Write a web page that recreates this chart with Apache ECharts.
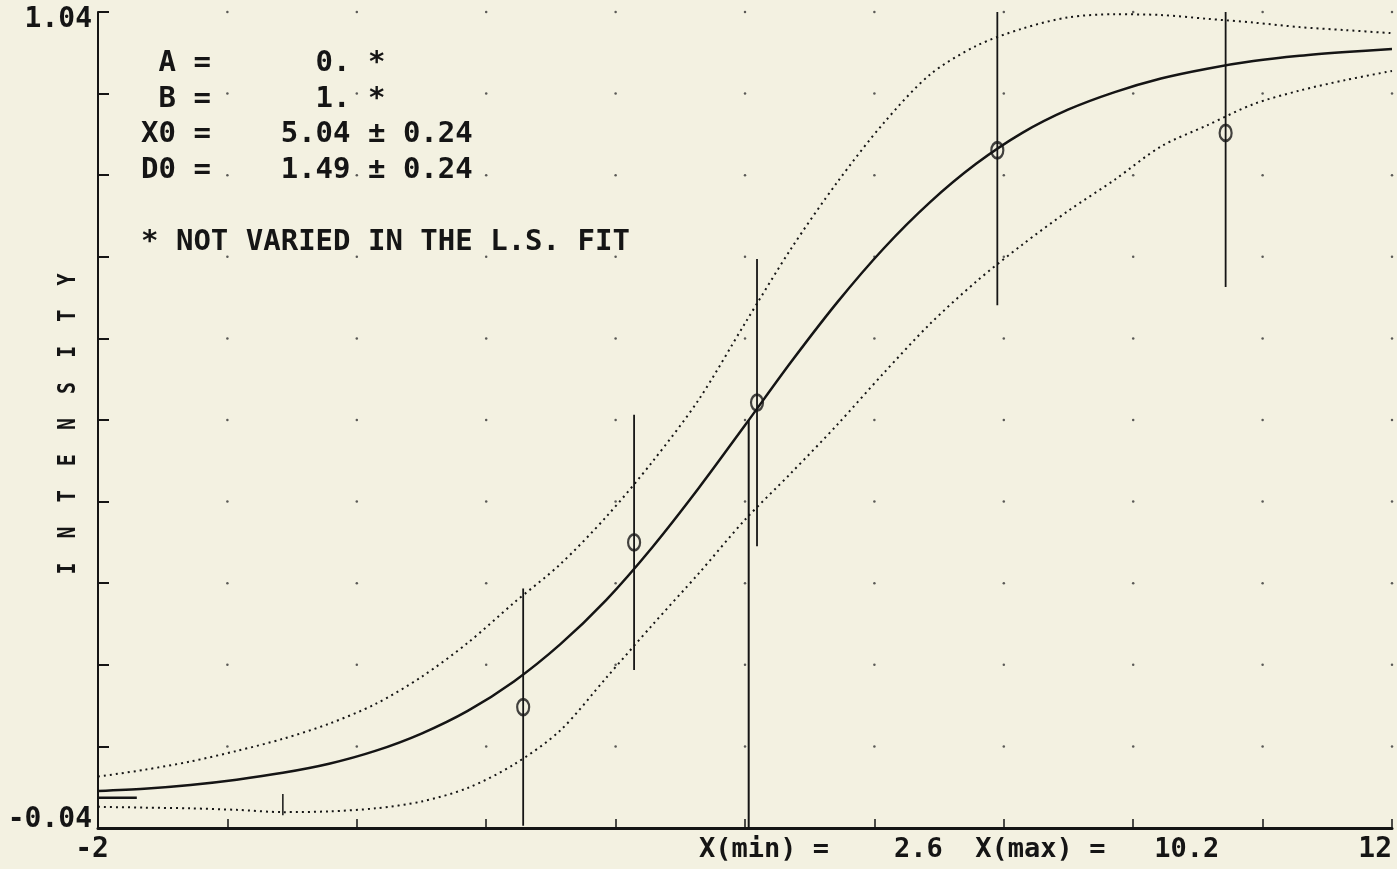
<!DOCTYPE html>
<html>
<head>
<meta charset="utf-8">
<script src="https://cdn.jsdelivr.net/npm/echarts@6/dist/echarts.min.js"></script>
<style>
html, body { margin: 0; padding: 0; background: #f3f1e1; }
#main { width: 1397px; height: 869px; }
</style>
</head>
<body>
<div id="main"></div>
<script>
// axis ticks (every 1.4 on x, every 0.108 on y)
var xTicks = [-2, -0.6, 0.8, 2.2, 3.6, 5, 6.4, 7.8, 9.2, 10.6, 12];
var yTicks = [-0.04, 0.068, 0.176, 0.284, 0.392, 0.5, 0.608, 0.716, 0.824, 0.932, 1.04];

// measured points with error bars
var pointX = [2.6, 3.8, 5.13, 7.73, 10.2];
var pointY = [0.120, 0.338, 0.523, 0.857, 0.880];
var pointErr = [0.157, 0.169, 0.190, 0.205, 0.204];

// fitted curve and the dotted band
var curveX = [-2, -1.5, -1, -0.5, 0, 0.5, 1, 1.5, 2, 2.5, 3, 3.5, 4, 4.5, 5, 5.5, 6, 6.5, 7, 7.5, 8, 8.5, 9, 9.5, 10, 10.5, 11, 11.5, 12];
var fitY = [0.009, 0.012, 0.017, 0.024, 0.033, 0.045, 0.062, 0.085, 0.115, 0.154, 0.203, 0.262, 0.332, 0.410, 0.493, 0.577, 0.656, 0.727, 0.788, 0.839, 0.880, 0.911, 0.934, 0.952, 0.965, 0.975, 0.982, 0.987, 0.991];
var upperY = [0.028, 0.037, 0.048, 0.062, 0.078, 0.098, 0.124, 0.160, 0.205, 0.258, 0.309, 0.372, 0.445, 0.527, 0.628, 0.727, 0.815, 0.893, 0.957, 0.995, 1.018, 1.033, 1.037, 1.036, 1.031, 1.026, 1.020, 1.016, 1.012];
var lowerY = [-0.012, -0.013, -0.014, -0.016, -0.019, -0.018, -0.014, -0.005, 0.013, 0.044, 0.089, 0.159, 0.229, 0.297, 0.368, 0.430, 0.494, 0.562, 0.627, 0.683, 0.732, 0.777, 0.818, 0.862, 0.890, 0.918, 0.936, 0.950, 0.962];

// markers: X0 drop line, A level stub, small tick at x = 0
var x0Line = [[5.04, -0.04], [5.04, 0.5]];
var aStub = [[-2, 0], [-1.58, 0]];
var zeroTick = [[0, -0.023], [0, 0.005]];

var paramLines = [' A =      0. *', ' B =      1. *', 'X0 =    5.04 ± 0.24', 'D0 =    1.49 ± 0.24'];
var noteText = '* NOT VARIED IN THE L.S. FIT';
var rangeText = 'X(min) =    2.6  X(max) =   10.2';
var yTitle = 'I  N  T  E  N  S  I  T  Y';

var FONT = 'DejaVu Sans Mono';
var INK = '#151515';

function zip(xs, ys) {
    var out = [];
    for (var i = 0; i < xs.length; i++) out.push([xs[i], ys[i]]);
    return out;
}

var gridDots = [];
for (var i = 1; i < xTicks.length; i++) {
    for (var j = 1; j < yTicks.length; j++) {
        gridDots.push([xTicks[i], yTicks[j]]);
    }
}

var errData = [];
for (var k = 0; k < pointX.length; k++) {
    errData.push([pointX[k],
        Math.max(yTicks[0], pointY[k] - pointErr[k]),
        Math.min(yTicks[yTicks.length - 1], pointY[k] + pointErr[k])]);
}

var dom = document.getElementById('main');
var myChart = echarts.init(dom);

var graphics = [];
for (var n = 0; n < paramLines.length; n++) {
    graphics.push({
        type: 'text', left: 141, top: 49 + n * 35.5,
        style: { text: paramLines[n], font: 'bold 29px "' + FONT + '"', fill: INK }
    });
}
graphics.push({
    type: 'text', left: 141, top: 228,
    style: { text: noteText, font: 'bold 29px "' + FONT + '"', fill: INK }
});
graphics.push({
    type: 'text', left: 699, top: 836,
    style: { text: rangeText, font: 'bold 27px "' + FONT + '"', fill: INK }
});
graphics.push({
    type: 'text', x: 68, y: 424, rotation: Math.PI / 2, scaleY: 1.25,
    style: { text: yTitle, font: 'bold 20px "' + FONT + '"', fill: INK, align: 'center', verticalAlign: 'middle' }
});

option = {
    backgroundColor: '#f3f1e1',
    animation: false,
    grid: { left: 98, right: 5, top: 12, bottom: 41 },
    xAxis: {
        type: 'value',
        min: xTicks[0],
        max: xTicks[xTicks.length - 1],
        interval: 1.4,
        axisLine: { onZero: false, lineStyle: { color: INK, width: 3 } },
        axisTick: { inside: true, length: 9, lineStyle: { color: INK, width: 1.5 } },
        splitLine: { show: false },
        axisLabel: {
            margin: 8,
            alignMaxLabel: 'right',
            formatter: function (v) {
                if (Math.abs(v - xTicks[0]) < 1e-6) return '{first|-2}';
                if (Math.abs(v - xTicks[xTicks.length - 1]) < 1e-6) return '{last|12}';
                return '';
            },
            rich: {
                first: { fontFamily: FONT, fontWeight: 'bold', fontSize: 28, color: INK, padding: [0, 12, 0, 0] },
                last: { fontFamily: FONT, fontWeight: 'bold', fontSize: 28, color: INK }
            }
        }
    },
    yAxis: {
        type: 'value',
        min: yTicks[0],
        max: yTicks[yTicks.length - 1],
        interval: 0.108,
        axisLine: { show: true, onZero: false, lineStyle: { color: INK, width: 2 } },
        axisTick: { show: true, inside: true, length: 11, lineStyle: { color: INK, width: 2 } },
        splitLine: { show: false },
        axisLabel: {
            margin: 6,
            formatter: function (v) {
                if (Math.abs(v - yTicks[yTicks.length - 1]) < 1e-6) return '{hi|1.04}';
                if (Math.abs(v - yTicks[0]) < 1e-6) return '{lo|-0.04}';
                return '';
            },
            rich: {
                hi: { fontFamily: FONT, fontWeight: 'bold', fontSize: 28, color: INK, padding: [16, 0, 0, 0] },
                lo: { fontFamily: FONT, fontWeight: 'bold', fontSize: 28, color: INK, padding: [0, 0, 16, 0] }
            }
        }
    },
    graphic: graphics,
    series: [
        {
            type: 'scatter',
            silent: true,
            symbolSize: 2.5,
            itemStyle: { color: '#333' },
            data: gridDots
        },
        {
            type: 'line',
            showSymbol: false,
            smooth: 0.3,
            lineStyle: { color: INK, width: 2.5 },
            data: zip(curveX, fitY)
        },
        {
            type: 'line',
            showSymbol: false,
            smooth: 0.3,
            lineStyle: { color: INK, width: 2, type: [2, 4] },
            data: zip(curveX, upperY)
        },
        {
            type: 'line',
            showSymbol: false,
            smooth: 0.3,
            lineStyle: { color: INK, width: 2, type: [2, 4] },
            data: zip(curveX, lowerY)
        },
        {
            type: 'custom',
            renderItem: function (params, api) {
                var lo = api.coord([api.value(0), api.value(1)]);
                var hi = api.coord([api.value(0), api.value(2)]);
                return {
                    type: 'line',
                    shape: { x1: lo[0], y1: lo[1], x2: hi[0], y2: hi[1] },
                    style: { stroke: INK, lineWidth: 1.8 }
                };
            },
            data: errData
        },
        {
            type: 'scatter',
            symbol: 'circle',
            symbolSize: [12, 16],
            itemStyle: { color: 'transparent', borderColor: INK, borderWidth: 2.5 },
            data: zip(pointX, pointY)
        },
        {
            type: 'line',
            showSymbol: false,
            lineStyle: { color: INK, width: 2 },
            data: x0Line
        },
        {
            type: 'line',
            showSymbol: false,
            lineStyle: { color: INK, width: 2.5 },
            data: aStub
        },
        {
            type: 'line',
            showSymbol: false,
            lineStyle: { color: INK, width: 1.5 },
            data: zeroTick
        }
    ]
};

if (option && typeof option === "object") {
    myChart.setOption(option, true);
}
</script>
</body>
</html>
